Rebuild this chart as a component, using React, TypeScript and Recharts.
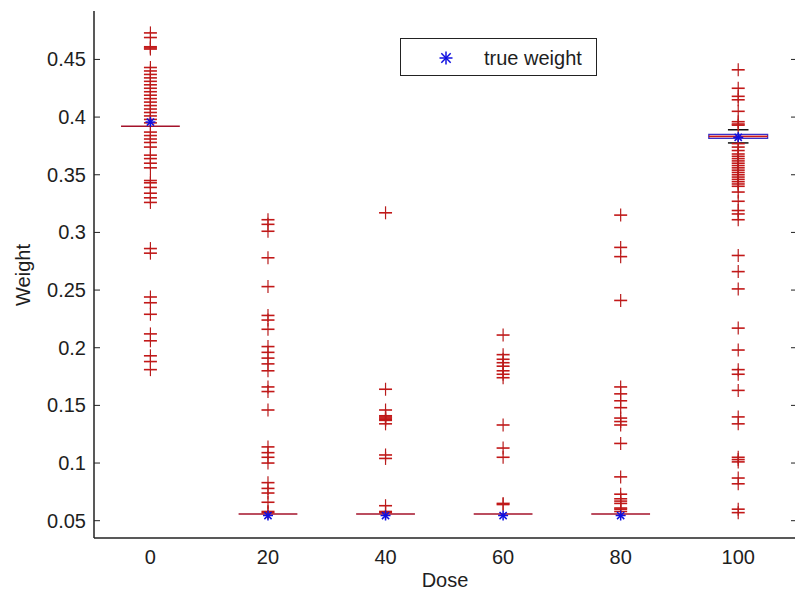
import React from 'react';
import { ComposedChart, Scatter, XAxis, YAxis, ReferenceLine, ReferenceArea, Legend } from 'recharts';

const FONT = '"Liberation Sans", Arial, Helvetica, sans-serif';
const TEXT = '#1e1e1e';

const doses = [0, 20, 40, 60, 80, 100];
const xTicks = [0, 20, 40, 60, 80, 100];
const xTickLabels = ['0', '20', '40', '60', '80', '100'];
const yTicks = [0.05, 0.1, 0.15, 0.2, 0.25, 0.3, 0.35, 0.4, 0.45];
const yTickLabels = ['0.05', '0.1', '0.15', '0.2', '0.25', '0.3', '0.35', '0.4', '0.45'];

const medians = [0.392, 0.0558, 0.0558, 0.0558, 0.0558, 0.3832];
const trueWeights = [0.3957, 0.0545, 0.0545, 0.0545, 0.0545, 0.3825];

// dose 100 is the only group with a visible box
const box100Q1 = 0.3815;
const box100Q3 = 0.385;
const box100Lower = 0.3776;
const box100Upper = 0.389;

const outliers0 = [0.473, 0.469, 0.461, 0.460, 0.459, 0.443, 0.440, 0.437, 0.434, 0.431, 0.428, 0.425, 0.422,
  0.419, 0.416, 0.413, 0.410, 0.407, 0.404, 0.401, 0.398, 0.395, 0.387, 0.384, 0.381, 0.378, 0.374, 0.367,
  0.364, 0.360, 0.356, 0.345, 0.343, 0.339, 0.334, 0.330, 0.326, 0.286, 0.282, 0.244, 0.239, 0.229, 0.212,
  0.206, 0.193, 0.188, 0.181];
const outliers20 = [0.311, 0.307, 0.301, 0.278, 0.253, 0.228, 0.224, 0.216, 0.201, 0.196, 0.191, 0.186, 0.180,
  0.166, 0.162, 0.146, 0.114, 0.109, 0.105, 0.100, 0.083, 0.078, 0.074, 0.066, 0.058, 0.057];
const outliers40 = [0.317, 0.164, 0.146, 0.141, 0.140, 0.139, 0.138, 0.137, 0.134, 0.107, 0.104, 0.063, 0.058, 0.057];
const outliers60 = [0.211, 0.194, 0.190, 0.187, 0.184, 0.180, 0.177, 0.174, 0.133, 0.113, 0.105, 0.065, 0.064];
const outliers80 = [0.315, 0.287, 0.279, 0.241, 0.166, 0.160, 0.154, 0.148, 0.139, 0.136, 0.133, 0.117, 0.088,
  0.073, 0.069, 0.067, 0.065, 0.061, 0.060, 0.058];
const outliers100 = [0.441, 0.425, 0.418, 0.415, 0.405, 0.396, 0.394, 0.393, 0.377, 0.374, 0.371, 0.368, 0.366,
  0.364, 0.362, 0.360, 0.358, 0.356, 0.354, 0.352, 0.350, 0.348, 0.346, 0.344, 0.342, 0.340, 0.335, 0.327,
  0.319, 0.316, 0.311, 0.280, 0.266, 0.251, 0.217, 0.198, 0.181, 0.177, 0.163, 0.140, 0.134, 0.105, 0.103,
  0.101, 0.087, 0.082, 0.060, 0.057];

const outlierLists = [outliers0, outliers20, outliers40, outliers60, outliers80, outliers100];
const outlierData = doses.flatMap((d, i) => outlierLists[i].map((v) => ({ x: d, y: v })));
const trueData = doses.map((d, i) => ({ x: d, y: trueWeights[i] }));

const HALF_BOX = 5;
const HALF_CAP = 1.75;

const PlusShape = (props: any) => {
  const { cx, cy } = props;
  if (cx == null || cy == null) return null;
  return (
    <g>
      <line x1={cx - 6.5} x2={cx + 6.5} y1={cy} y2={cy} stroke="#c21818" strokeWidth={1.6} />
      <line x1={cx} x2={cx} y1={cy - 6.5} y2={cy + 6.5} stroke="#b81c1c" strokeWidth={1.2} />
    </g>
  );
};

const StarGlyph = ({ cx, cy, r }: { cx: number; cy: number; r: number }) => {
  const d = r * 0.72;
  return (
    <g stroke="#1010e0" strokeWidth={1.5}>
      <line x1={cx - r} x2={cx + r} y1={cy} y2={cy} />
      <line x1={cx} x2={cx} y1={cy - r} y2={cy + r} />
      <line x1={cx - d} x2={cx + d} y1={cy - d} y2={cy + d} />
      <line x1={cx - d} x2={cx + d} y1={cy + d} y2={cy - d} />
    </g>
  );
};

const StarShape = (props: any) => {
  const { cx, cy } = props;
  if (cx == null || cy == null) return null;
  return <StarGlyph cx={cx} cy={cy} r={5} />;
};

const YTick = (props: any) => {
  const { y, payload } = props;
  const idx = yTicks.indexOf(payload.value);
  return (
    <g>
      <line x1={94} x2={100} y1={y} y2={y} stroke="#222" strokeWidth={1} />
      <line x1={791} x2={797} y1={y} y2={y} stroke="#222" strokeWidth={1} />
      <text x={86} y={y} dy={7} textAnchor="end" fontFamily={FONT} fontSize={20} fill={TEXT}>
        {idx >= 0 ? yTickLabels[idx] : String(payload.value)}
      </text>
    </g>
  );
};

const XTick = (props: any) => {
  const { x, payload } = props;
  const idx = xTicks.indexOf(payload.value);
  return (
    <text x={x} y={563.5} textAnchor="middle" fontFamily={FONT} fontSize={20} fill={TEXT}>
      {idx >= 0 ? xTickLabels[idx] : String(payload.value)}
    </text>
  );
};

const renderLegend = (props: any) => {
  const items = (props && props.payload) || [];
  const item = items.find((p: any) => p.value === 'true weight');
  const label = item ? item.value : 'true weight';
  return (
    <div
      style={{
        boxSizing: 'border-box',
        width: 197,
        height: 38,
        border: '1px solid #222',
        background: '#fff',
        position: 'relative',
        fontFamily: FONT,
        fontSize: 20,
        color: TEXT,
      }}
    >
      <svg width={30} height={30} style={{ position: 'absolute', left: 30, top: 4 }}>
        <StarGlyph cx={15} cy={15} r={6.5} />
      </svg>
      <span style={{ position: 'absolute', left: 83, top: 9, lineHeight: '20px', whiteSpace: 'nowrap' }}>{label}</span>
    </div>
  );
};

export default function App() {
  return (
    <div style={{ position: 'absolute', left: 0, top: 0, width: 795, height: 593, overflow: 'hidden', background: '#fff' }}>
      <ComposedChart width={797} height={593} margin={{ top: 11, right: 0, bottom: 0, left: 0 }}>
        <XAxis
          xAxisId="top"
          orientation="top"
          type="number"
          dataKey="x"
          domain={[-9.6, 110]}
          height={0}
          tick={false}
          tickLine={false}
          axisLine={{ stroke: '#222', strokeWidth: 1.5 }}
        />
        <XAxis
          type="number"
          dataKey="x"
          domain={[-9.6, 110]}
          ticks={xTicks}
          interval={0}
          height={55}
          tickLine={false}
          axisLine={{ stroke: '#222', strokeWidth: 1.5 }}
          tick={XTick}
          allowDataOverflow
        />
        <YAxis
          type="number"
          dataKey="y"
          domain={[0.035, 0.492]}
          ticks={yTicks}
          interval={0}
          width={94}
          tickLine={false}
          axisLine={{ stroke: '#222', strokeWidth: 1.5 }}
          tick={YTick}
          allowDataOverflow
        />
        {doses.map((d, i) => (
          <ReferenceLine
            key={'med' + d}
            segment={[{ x: d - HALF_BOX, y: medians[i] }, { x: d + HALF_BOX, y: medians[i] }]}
            stroke="#a4122a"
            strokeWidth={1.5}
          />
        ))}
        <Scatter
          name="outliers"
          data={outlierData}
          shape={PlusShape}
          legendType="none"
          isAnimationActive={false}
        />
        <ReferenceArea
          x1={100 - HALF_BOX}
          x2={100 + HALF_BOX}
          y1={box100Q1}
          y2={box100Q3}
          fill="#ffffff"
          fillOpacity={1}
          stroke="#3a30c8"
          strokeWidth={1.3}
        />
        <ReferenceLine segment={[{ x: 100, y: box100Q3 }, { x: 100, y: box100Upper }]} stroke="#111" strokeDasharray="3 2" />
        <ReferenceLine segment={[{ x: 100, y: box100Q1 }, { x: 100, y: box100Lower }]} stroke="#111" strokeDasharray="3 2" />
        <ReferenceLine segment={[{ x: 100 - HALF_CAP, y: box100Upper }, { x: 100 + HALF_CAP, y: box100Upper }]} stroke="#111" strokeWidth={1.5} />
        <ReferenceLine segment={[{ x: 100 - HALF_CAP, y: box100Lower }, { x: 100 + HALF_CAP, y: box100Lower }]} stroke="#111" strokeWidth={1.5} />
        <ReferenceLine segment={[{ x: 100 - HALF_BOX, y: medians[5] }, { x: 100 + HALF_BOX, y: medians[5] }]} stroke="#d01818" strokeWidth={1.2} />
        <Scatter
          name="true weight"
          data={trueData}
          shape={StarShape}
          isAnimationActive={false}
        />
        <Legend
          layout="vertical"
          align="center"
          verticalAlign="middle"
          wrapperStyle={{ left: 400, top: 38, width: 197, height: 38 }}
          content={renderLegend}
        />
        <text x={445} y={586.5} textAnchor="middle" fontFamily={FONT} fontSize={20} fill={TEXT}>Dose</text>
        <text
          x={30}
          y={275}
          transform="rotate(-90 30 275)"
          textAnchor="middle"
          fontFamily={FONT}
          fontSize={20}
          fill={TEXT}
        >
          Weight
        </text>
      </ComposedChart>
    </div>
  );
}
